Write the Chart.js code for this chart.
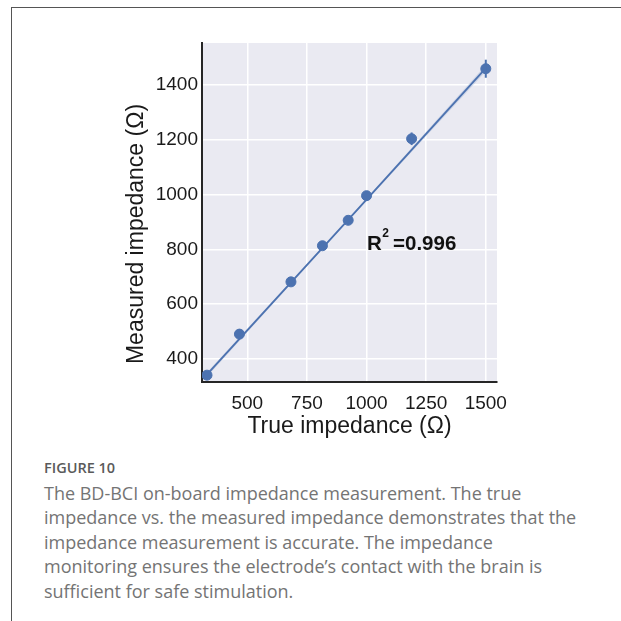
<!DOCTYPE html>
<html>
<head>
<meta charset="utf-8">
<script src="https://cdn.jsdelivr.net/npm/chart.js@4"></script>
<style>
  html, body { margin: 0; padding: 0; background: #fff; }
  body { width: 621px; height: 621px; position: relative; overflow: hidden; }
  #frame { position: absolute; left: 11px; top: 7px; right: -2px; bottom: -2px;
           border-top: 1px solid #555; border-left: 1px solid #555; }
  #wrap { position: absolute; left: 0; top: 0; width: 621px; height: 440px; }
  #caption { position: absolute; left: 44px; top: 456px; font-family: "Open Sans", sans-serif;
             color: #747474; font-size: 18px; line-height: 24.5px; white-space: nowrap; }
  #caption .fig { font-size: 14.5px; font-weight: 600; color: #5a5a5a; display: block; margin-bottom: 0px; }
</style>
</head>
<body>
<div id="frame"></div>
<div id="wrap"><canvas id="chart" width="621" height="440"></canvas></div>
<div id="caption">
  <span class="fig">FIGURE 10</span>
  The BD-BCI on-board impedance measurement. The true<br>
  impedance vs. the measured impedance demonstrates that the<br>
  impedance measurement is accurate. The impedance<br>
  monitoring ensures the electrode’s contact with the brain is<br>
  sufficient for safe stimulation.
</div>
<script>
// ── Data ────────────────────────────────────────────────────────────
const trueImp = [331, 467, 683, 815, 923, 1000, 1189, 1500];
const measImp = [340, 490, 681, 813, 906, 996, 1204, 1460];
const measErr = [0, 0, 0, 0, 0, 0, 23, 33];

// regression line + confidence band
const fitX = [315, 915, 1500];
const fitY = [327, 900, 1462];
const fitLo = [319, 897, 1450];
const fitHi = [335, 903, 1474];

const xTicks = [500, 750, 1000, 1250, 1500];
const yTicks = [400, 600, 800, 1000, 1200, 1400];

const BLUE = "#4c72b0";
const FONT = "'Liberation Sans', Arial, sans-serif";

// ── Plugins ─────────────────────────────────────────────────────────
const panelBg = {
    id: "panelBg",
    beforeDraw(chart) {
        const { ctx, chartArea: a } = chart;
        ctx.save();
        ctx.fillStyle = "#eaeaf2";
        ctx.fillRect(a.left, a.top, a.right - a.left, a.bottom - a.top);
        ctx.restore();
    }
};

const errorBars = {
    id: "errorBars",
    afterDatasetsDraw(chart) {
        const { ctx, scales: { x, y } } = chart;
        ctx.save();
        ctx.strokeStyle = BLUE;
        ctx.lineWidth = 2;
        trueImp.forEach((v, i) => {
            if (!measErr[i]) return;
            const px = x.getPixelForValue(v);
            ctx.beginPath();
            ctx.moveTo(px, y.getPixelForValue(measImp[i] - measErr[i]));
            ctx.lineTo(px, y.getPixelForValue(measImp[i] + measErr[i]));
            ctx.stroke();
        });
        ctx.restore();
    }
};

const labels = {
    id: "labels",
    afterDraw(chart) {
        const { ctx, scales: { x, y } } = chart;
        ctx.save();
        // R² annotation
        ctx.fillStyle = "#111";
        ctx.font = "bold 20.5px " + FONT;
        ctx.textBaseline = "alphabetic";
        const tx = x.getPixelForValue(1002), ty = y.getPixelForValue(797);
        ctx.fillText("R", tx, ty);
        const rw = ctx.measureText("R").width;
        ctx.font = "bold 12px " + FONT;
        ctx.fillText("2", tx + rw + 0.5, ty - 13);
        ctx.font = "bold 20.5px " + FONT;
        ctx.fillText("=0.996", tx + 26, ty);
        // y axis title
        ctx.fillStyle = "#1a1a1a";
        ctx.font = "23px " + FONT;
        ctx.translate(137, 234);
        ctx.rotate(-Math.PI / 2);
        ctx.textAlign = "center";
        ctx.textBaseline = "middle";
        ctx.fillText("Measured impedance (Ω)", 0, 0);
        ctx.restore();
    }
};

// ── Chart ───────────────────────────────────────────────────────────
const ctx = document.getElementById("chart").getContext("2d");
new Chart(ctx, {
    type: "scatter",
    data: {
        datasets: [
            {
                label: "ci low",
                type: "line",
                data: fitX.map((v, i) => ({ x: v, y: fitLo[i] })),
                borderWidth: 0,
                pointRadius: 0,
                fill: false,
                order: 3,
            },
            {
                label: "ci high",
                type: "line",
                data: fitX.map((v, i) => ({ x: v, y: fitHi[i] })),
                borderWidth: 0,
                pointRadius: 0,
                backgroundColor: "rgba(76,114,176,0.18)",
                fill: "-1",
                order: 3,
            },
            {
                label: "fit",
                type: "line",
                data: fitX.map((v, i) => ({ x: v, y: fitY[i] })),
                borderColor: BLUE,
                borderWidth: 1.8,
                pointRadius: 0,
                fill: false,
                order: 2,
            },
            {
                label: "measured",
                data: trueImp.map((v, i) => ({ x: v, y: measImp[i] })),
                backgroundColor: BLUE,
                borderColor: BLUE,
                pointRadius: 5,
                order: 1,
            },
        ]
    },
    options: {
        responsive: false,
        animation: false,
        events: [],
        layout: { padding: { left: 124, top: 43, right: 124, bottom: 0 } },
        plugins: {
            legend: { display: false },
            tooltip: { enabled: false },
        },
        scales: {
            x: {
                type: "linear",
                min: 310,
                max: 1547,
                afterBuildTicks: s => { s.ticks = xTicks.map(v => ({ value: v })); },
                afterFit: s => { s.height = 58; },
                ticks: { color: "#1a1a1a", padding: 10, maxRotation: 0,
                         callback: v => String(v),
                         font: { family: FONT, size: 19 } },
                grid: { color: "#ffffff", lineWidth: 1.5, drawTicks: false },
                border: { color: "#262626", width: 2 },
                title: { display: true, text: "True impedance (Ω)", color: "#1a1a1a", padding: 0,
                         font: { family: FONT, size: 23 } },
            },
            y: {
                type: "linear",
                min: 315,
                max: 1554,
                afterBuildTicks: s => { s.ticks = yTicks.map(v => ({ value: v })); },
                afterFit: s => { s.width = 78; },
                ticks: { color: "#1a1a1a", padding: 4,
                         callback: v => String(v),
                         font: { family: FONT, size: 19 } },
                grid: { color: "#ffffff", lineWidth: 1.5, drawTicks: false },
                border: { color: "#262626", width: 2 },
            },
        },
    },
    plugins: [panelBg, errorBars, labels],
});
</script>
</body>
</html>
